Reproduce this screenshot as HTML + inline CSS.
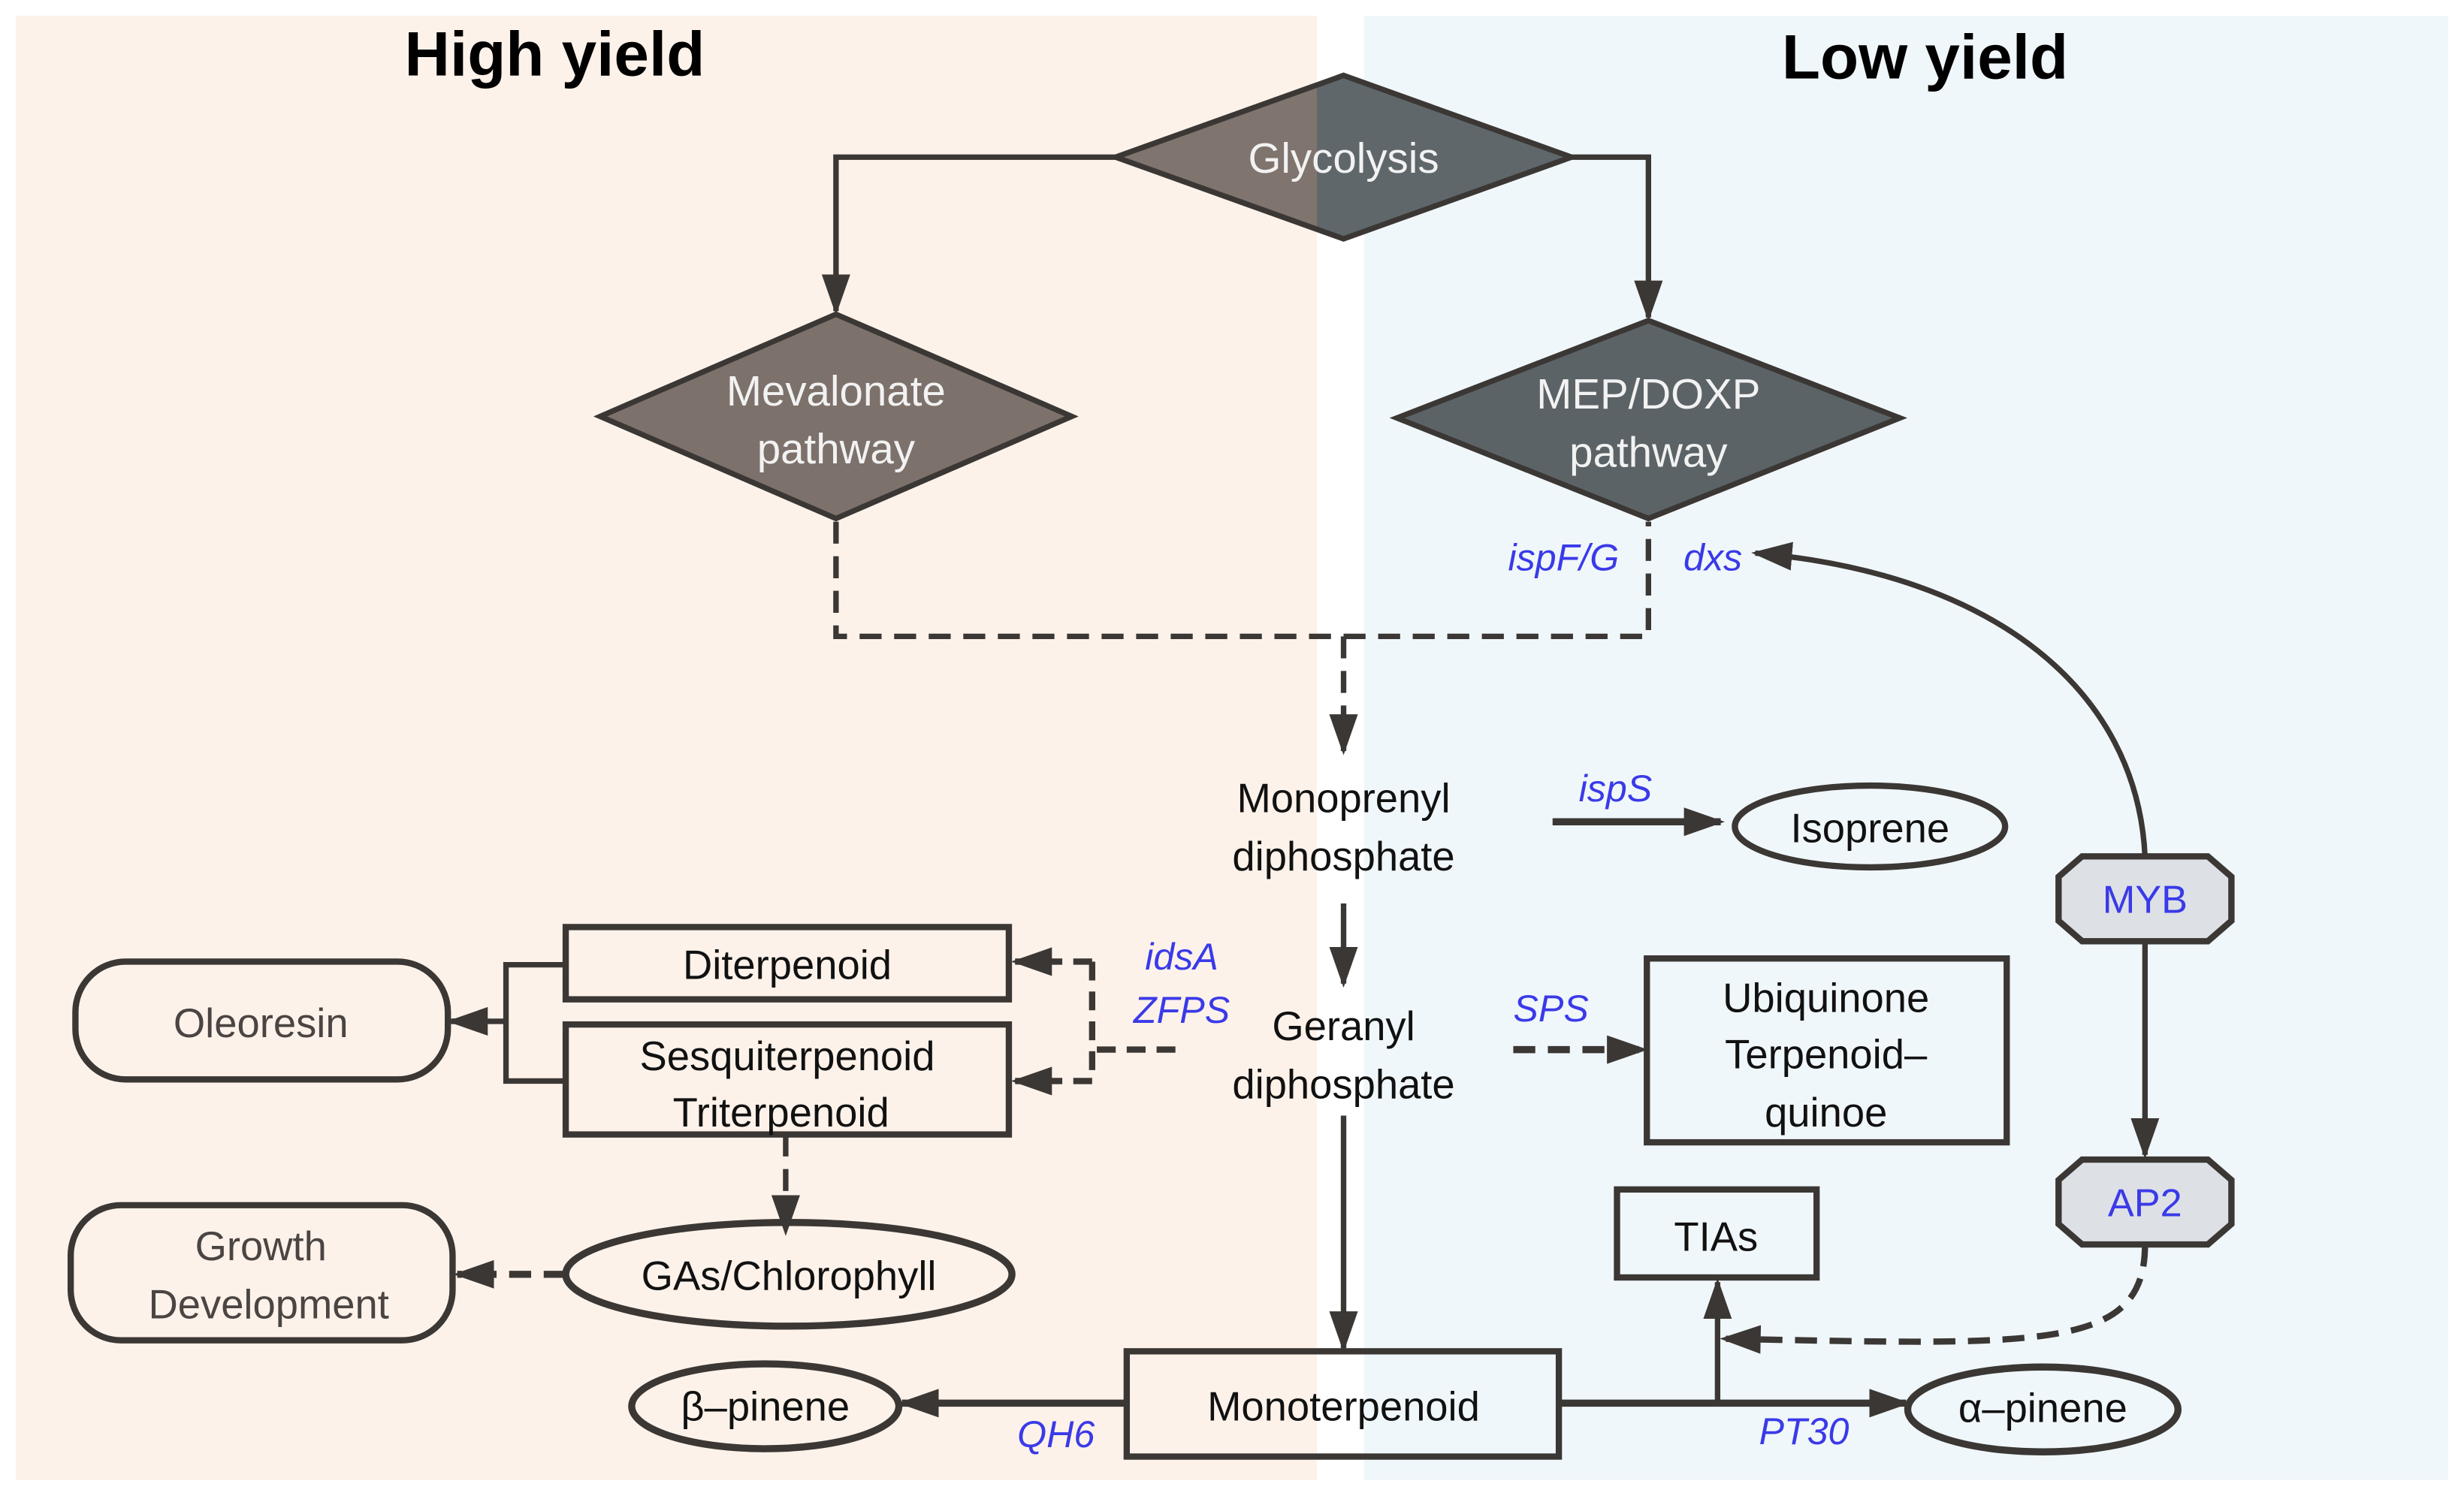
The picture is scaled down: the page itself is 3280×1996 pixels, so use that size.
<!DOCTYPE html>
<html><head><meta charset="utf-8"><style>html,body{margin:0;padding:0;background:#fff}svg{display:block}</style></head>
<body>
<svg width="3280" height="1996" viewBox="0 0 1568 954" preserveAspectRatio="none" xmlns="http://www.w3.org/2000/svg" font-family="'Liberation Sans', sans-serif">
<defs>
<marker id="a" viewBox="0 0 10 10" refX="9" refY="5" markerWidth="26" markerHeight="26" orient="auto" markerUnits="userSpaceOnUse"><path d="M0,1.5 L10,5 L0,8.5 z" fill="#3b3734"/></marker>
<clipPath id="cl"><rect x="0" y="0" width="838" height="954"/></clipPath>
<clipPath id="cr"><rect x="838" y="0" width="800" height="954"/></clipPath>
</defs>
<rect x="10" y="10" width="828" height="932" fill="#fdf2ea"/>
<rect x="868" y="10" width="690" height="932" fill="#f0f7fa"/>
<text x="353" y="48" font-size="40" font-weight="bold" text-anchor="middle" fill="#000">High yield</text>
<text x="1225" y="50" font-size="40" font-weight="bold" text-anchor="middle" fill="#000">Low yield</text>

<g stroke="#3b3734" fill="none" stroke-width="3.5">
<path d="M855,48 L1000,100 L855,152 L710,100 Z" fill="#7f746e" stroke="none" clip-path="url(#cl)"/>
<path d="M855,48 L1000,100 L855,152 L710,100 Z" fill="#5f676b" stroke="none" clip-path="url(#cr)"/>
<path d="M855,48 L1000,100 L855,152 L710,100 Z"/>
<path d="M532,200 L682,265 L532,330 L382,265 Z" fill="#7d716b"/>
<path d="M1049,204 L1209,266 L1049,330 L889,266 Z" fill="#5c6366"/>
<path d="M710,100 L532,100 L532,198" marker-end="url(#a)"/>
<path d="M1000,100 L1049,100 L1049,202" marker-end="url(#a)"/>
<path d="M532,332 L532,405 L1049,405 L1049,332" stroke-dasharray="14,8"/>
<path d="M855,405 L855,478" stroke-dasharray="14,8" marker-end="url(#a)"/>
<path d="M1365,545 C1360,440 1270,365 1117,352" marker-end="url(#a)"/>
<path d="M988,523 L1095,523" stroke-width="4.5" marker-end="url(#a)"/>
<ellipse cx="1190" cy="526" rx="86" ry="26" stroke-width="4"/>
<path d="M1325,545 L1405,545 L1420,558 L1420,586 L1405,599 L1325,599 L1310,586 L1310,558 Z" fill="#dde1e6" stroke-width="4"/>
<path d="M1325,738 L1405,738 L1420,751 L1420,779 L1405,792 L1325,792 L1310,779 L1310,751 Z" fill="#dde1e6" stroke-width="4"/>
<path d="M1365,599 L1365,735" marker-end="url(#a)"/>
<path d="M855,575 L855,626" marker-end="url(#a)"/>
<rect x="360" y="590" width="282" height="46" stroke-width="4"/>
<rect x="360" y="652" width="282" height="70" stroke-width="4"/>
<path d="M748,668 L695,668 M695,612 L695,688 M695,612 L646,612 M695,688 L646,688" stroke-dasharray="12,7" stroke-width="4"/>
<path d="M665,612 L646,612" marker-end="url(#a)"/>
<path d="M665,688 L646,688" marker-end="url(#a)"/>
<rect x="48" y="612" width="237" height="75" rx="32" stroke-width="4"/>
<path d="M360,614 L322,614 L322,688 L360,688 M322,650 L288,650"/>
<path d="M300,650 L287,650" marker-end="url(#a)"/>
<path d="M500,722 L500,784" stroke-dasharray="14,8" marker-end="url(#a)"/>
<ellipse cx="502" cy="811" rx="142" ry="33" stroke-width="4.5"/>
<rect x="45" y="767" width="243" height="86" rx="32" stroke-width="4"/>
<path d="M360,811 L291,811" stroke-dasharray="14,8" stroke-width="4.5" marker-end="url(#a)"/>
<path d="M963,668 L1046,668" stroke-dasharray="14,8" stroke-width="4.5" marker-end="url(#a)"/>
<rect x="1048" y="610" width="229" height="117" stroke-width="4"/>
<path d="M855,710 L855,858" marker-end="url(#a)"/>
<rect x="717" y="860" width="275" height="67" stroke-width="4"/>
<ellipse cx="487" cy="895" rx="85" ry="27" stroke-width="4.5"/>
<path d="M717,893 L574,893" stroke-width="4.5" marker-end="url(#a)"/>
<path d="M992,893 L1213,893" stroke-width="4.5" marker-end="url(#a)"/>
<ellipse cx="1300" cy="897" rx="86" ry="27" stroke-width="4.5"/>
<rect x="1029" y="757" width="127" height="56" stroke-width="4"/>
<path d="M1093,893 L1093,816" marker-end="url(#a)"/>
<path d="M1365,792 C1365,860 1300,856 1097,852" stroke-dasharray="14,8" stroke-width="4" marker-end="url(#a)"/>
</g>

<g font-size="27" text-anchor="middle" fill="#f2f2f2">
<text x="855" y="110">Glycolysis</text>
<text x="532" y="258">Mevalonate</text>
<text x="532" y="295">pathway</text>
<text x="1049" y="260">MEP/DOXP</text>
<text x="1049" y="297">pathway</text>
</g>
<g font-size="26" text-anchor="middle" fill="#111">
<text x="855" y="517">Monoprenyl</text>
<text x="855" y="554">diphosphate</text>
<text x="1190" y="536">Isoprene</text>
<text x="855" y="662">Geranyl</text>
<text x="855" y="699">diphosphate</text>
<text x="501" y="623">Diterpenoid</text>
<text x="501" y="681">Sesquiterpenoid</text>
<text x="497" y="717">Triterpenoid</text>
<text x="502" y="821">GAs/Chlorophyll</text>
<text x="1162" y="644">Ubiquinone</text>
<text x="1162" y="680">Terpenoid–</text>
<text x="1162" y="717">quinoe</text>
<text x="855" y="904">Monoterpenoid</text>
<text x="487" y="904">β–pinene</text>
<text x="1300" y="905">α–pinene</text>
<text x="1092" y="796">TIAs</text>
</g>
<g font-size="26" text-anchor="middle" fill="#4a4542">
<text x="166" y="660">Oleoresin</text>
<text x="166" y="802">Growth</text>
<text x="171" y="839">Development</text>
</g>
<g font-size="24" text-anchor="middle" fill="#3a3ae8" font-style="italic">
<text x="995" y="363">ispF/G</text>
<text x="1090" y="363">dxs</text>
<text x="1028" y="510">ispS</text>
<text x="752" y="617">idsA</text>
<text x="752" y="651">ZFPS</text>
<text x="987" y="650">SPS</text>
<text x="672" y="921">QH6</text>
<text x="1148" y="919">PT30</text>
</g>
<g font-size="25" text-anchor="middle" fill="#3a3ae8">
<text x="1365" y="581">MYB</text>
<text x="1365" y="774">AP2</text>
</g>
</svg>
</body></html>
